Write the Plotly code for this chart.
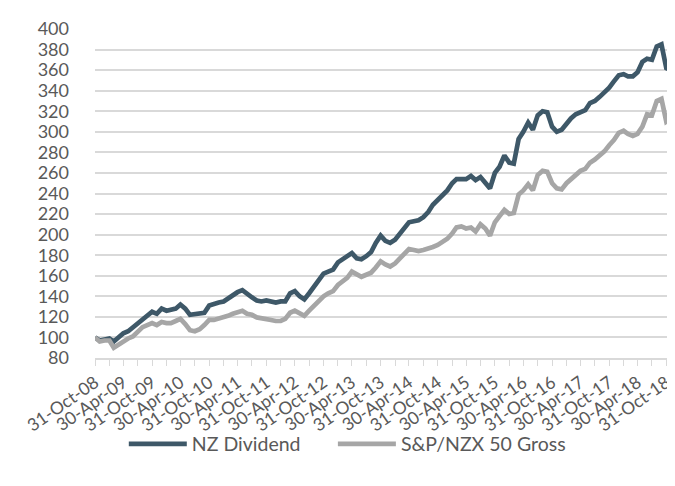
import pandas as pd
import plotly.graph_objects as go

dates = pd.date_range("2008-10-31", periods=122, freq="ME")

nz_dividend = [
    100, 97, 98, 99, 96, 100, 104, 106, 110, 114,
    118, 122, 125, 123, 128, 126, 127, 128, 132, 128,
    122, 123, 124, 124, 131, 133, 134, 135, 138, 141,
    144, 146, 142, 139, 136, 135, 136, 135, 134, 135,
    135, 143, 145, 140, 137, 143, 149, 155, 162, 164,
    166, 173, 176, 179, 182, 177, 176, 179, 183, 192,
    199, 194, 192, 195, 200, 207, 212, 213, 214, 217,
    222, 229, 234, 239, 243, 250, 254, 254, 254, 257,
    253, 256, 250, 245, 260, 266, 277, 270, 269, 293,
    300, 309, 302, 316, 320, 319, 305, 300, 302, 308,
    313, 317, 319, 321, 328, 330, 334, 338, 343, 349,
    355, 356, 354, 354, 358, 368, 371, 370, 383, 385,
    362, 360,
]

nzx50_gross = [
    100, 96, 97, 97, 90, 93, 97, 99, 101, 106,
    110, 112, 114, 112, 115, 114, 114, 116, 118, 113,
    107, 106, 108, 112, 117, 117, 118, 119, 121, 123,
    125, 126, 123, 122, 119.5, 119, 118, 117, 116, 116,
    118, 124, 126, 124, 121, 126, 131, 136, 140, 143,
    145, 151, 155, 158, 164, 161, 159, 161, 163, 168,
    174, 171, 169, 172, 176, 181, 186, 185, 184, 185,
    186, 188, 190, 193, 196, 201, 207, 208, 206, 207,
    203, 210, 206, 199, 212, 218, 224, 220, 221, 239,
    243, 249, 243, 258, 262, 261, 250, 245, 244, 250,
    254, 257, 262, 264, 270, 273, 277, 281, 287, 292,
    299, 301, 298, 296, 298, 305, 317, 316, 330, 332,
    310, 313,
]

series_names = ["NZ Dividend", "S&P/NZX 50 Gross"]
series_colors = ["#3e5868", "#a6a6a6"]
legend_ids = ["legend", "legend2"]

tick_dates = dates[::3]
tick_text = [d.strftime("%d-%b-%y") if i % 2 == 0 else "" for i, d in enumerate(tick_dates)]

y_ticks = list(range(80, 401, 20))

fig = go.Figure()
for name, vals, col, lg in zip(series_names, [nz_dividend, nzx50_gross], series_colors, legend_ids):
    fig.add_trace(go.Scatter(
        x=dates, y=vals, name=name, mode="lines",
        line=dict(color=col, width=4.7), legend=lg,
    ))

font_family = "Lato"
txt_col = "#595959"

legend_common = dict(
    orientation="h", xanchor="left", y=-0.262, yanchor="middle",
    font=dict(size=19.5, color=txt_col), itemwidth=58,
    bgcolor="rgba(0,0,0,0)",
)

fig.update_layout(
    width=675, height=486,
    margin=dict(l=87, r=9, t=18, b=136),
    paper_bgcolor="white", plot_bgcolor="white",
    font=dict(family=font_family, color=txt_col, size=17),
    showlegend=True,
    legend=dict(x=0.05, **legend_common),
    legend2=dict(x=0.413, **legend_common),
    xaxis=dict(
        range=[dates[0], dates[-1]],
        tickmode="array", tickvals=tick_dates, ticktext=tick_text,
        tickangle=-35, ticks="outside", ticklen=6, tickcolor="#d9d9d9",
        tickfont=dict(size=17.5, color=txt_col),
        showgrid=False, showline=True, linecolor="#d9d9d9", linewidth=1.5,
        zeroline=False,
    ),
    yaxis=dict(
        range=[80, 400], tickmode="array", tickvals=y_ticks,
        showgrid=True, gridcolor="#d9d9d9", gridwidth=1.5,
        zeroline=False, showline=False, ticks="",
        ticklabelstandoff=25,
        tickfont=dict(size=18, color=txt_col),
    ),
)

fig.write_html("out.html")
